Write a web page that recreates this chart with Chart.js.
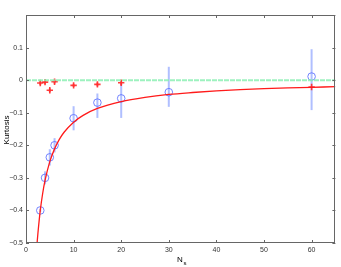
<!DOCTYPE html>
<html>
<head>
<meta charset="utf-8">
<script src="https://cdn.jsdelivr.net/npm/chart.js"></script>
<style>
  html, body { margin: 0; padding: 0; background: #fff; }
  #wrap { width: 341px; height: 267px; position: relative; }
</style>
</head>
<body>
<div id="wrap"><canvas id="myChart" width="341" height="267"></canvas></div>
<script>
// blue circles with error bars
let blueNs = [3, 4, 5, 6, 10, 15, 20, 30, 60];
let blueK = [-0.40, -0.30, -0.237, -0.20, -0.117, -0.069, -0.056, -0.037, 0.011];
let blueErrUp = [0.005, 0.02, 0.025, 0.022, 0.037, 0.028, 0.045, 0.078, 0.084];
let blueErrDown = [0.005, 0.02, 0.025, 0.022, 0.037, 0.047, 0.06, 0.045, 0.103];

// red plus markers
let redNs = [3, 4, 5, 6, 10, 15, 20, 60];
let redK = [-0.009, -0.006, -0.031, -0.005, -0.016, -0.013, -0.008, -0.021];
let redErr = [0.006, 0.006, 0.006, 0.006, 0.005, 0.006, 0.007, 0.002];

// red curve
let curveNs = [2.33, 2.5, 3, 3.5, 4, 5, 6, 7, 8, 10, 12, 15, 20, 25, 30, 35, 40, 45, 50, 55, 60, 65];
let curveK = [-0.5, -0.471, -0.4, -0.348, -0.308, -0.25, -0.211, -0.182, -0.16, -0.129, -0.108, -0.087,
  -0.066, -0.053, -0.044, -0.038, -0.033, -0.029, -0.026, -0.024, -0.022, -0.020];

// zero line
let zeroNs = [0, 65];
let zeroK = [0, 0];

let xTicks = [0, 10, 20, 30, 40, 50, 60];
let yTicks = [-0.5, -0.4, -0.3, -0.2, -0.1, 0, 0.1, 0.2];

let fontName = "'Liberation Sans', Arial, sans-serif";

function toPts(xs, ys) {
  let pts = [];
  for (let i = 0; i < xs.length; i++) pts.push({ x: xs[i], y: ys[i] });
  return pts;
}

let matlabBox = {
  id: 'matlabBox',
  beforeDatasetsDraw(chart) {
    let ctx = chart.ctx;
    let xs = chart.scales.x, ys = chart.scales.y;
    // error bars
    ctx.save();
    ctx.lineWidth = 2;
    ctx.strokeStyle = 'rgba(150,170,255,0.75)';
    for (let i = 0; i < blueNs.length; i++) {
      let px = xs.getPixelForValue(blueNs[i]);
      ctx.beginPath();
      ctx.moveTo(px, ys.getPixelForValue(blueK[i] + blueErrUp[i]));
      ctx.lineTo(px, ys.getPixelForValue(blueK[i] - blueErrDown[i]));
      ctx.stroke();
    }
    ctx.strokeStyle = 'rgba(255,90,90,0.8)';
    for (let i = 0; i < redNs.length; i++) {
      let px = xs.getPixelForValue(redNs[i]);
      ctx.beginPath();
      ctx.moveTo(px, ys.getPixelForValue(redK[i] + redErr[i]));
      ctx.lineTo(px, ys.getPixelForValue(redK[i] - redErr[i]));
      ctx.stroke();
    }
    ctx.restore();
  },
  afterDraw(chart) {
    let ctx = chart.ctx;
    let a = chart.chartArea;
    let xs = chart.scales.x, ys = chart.scales.y;
    ctx.save();
    ctx.strokeStyle = '#666';
    ctx.lineWidth = 1;
    ctx.strokeRect(Math.round(a.left) + 0.5, Math.round(a.top) + 0.5,
      Math.round(a.right - a.left) - 1, Math.round(a.bottom - a.top) - 1);
    ctx.beginPath();
    for (let t of xTicks) {
      let px = Math.round(xs.getPixelForValue(t)) + 0.5;
      ctx.moveTo(px, a.bottom); ctx.lineTo(px, a.bottom - 3);
      ctx.moveTo(px, a.top); ctx.lineTo(px, a.top + 3);
    }
    for (let t of yTicks) {
      let py = Math.round(ys.getPixelForValue(t)) + 0.5;
      ctx.moveTo(a.left, py); ctx.lineTo(a.left + 3, py);
      ctx.moveTo(a.right, py); ctx.lineTo(a.right - 3, py);
    }
    ctx.stroke();
    // axis titles
    ctx.fillStyle = '#000';
    ctx.font = '8px ' + fontName;
    ctx.textBaseline = 'alphabetic';
    ctx.textAlign = 'left';
    ctx.fillText('N', 177, 262);
    ctx.font = '6px ' + fontName;
    ctx.fillText('s', 183.5, 265);
    ctx.translate(9, 130);
    ctx.rotate(-Math.PI / 2);
    ctx.font = '8px ' + fontName;
    ctx.textAlign = 'center';
    ctx.fillText('Kurtosis', 0, 0);
    ctx.restore();
  }
};

new Chart('myChart', {
  type: 'scatter',
  data: {
    datasets: [
      {
        label: 'zero',
        type: 'line',
        data: toPts(zeroNs, zeroK),
        borderColor: 'rgba(140,240,180,0.85)',
        borderWidth: 2,
        borderDash: [5, 1],
        pointRadius: 0,
        fill: false
      },
      {
        label: 'curve',
        type: 'line',
        data: toPts(curveNs, curveK),
        borderColor: '#ff1a1a',
        borderWidth: 1.3,
        pointRadius: 0,
        cubicInterpolationMode: 'monotone',
        fill: false
      },
      {
        label: 'blue',
        data: toPts(blueNs, blueK),
        pointStyle: 'circle',
        pointRadius: 3.8,
        borderColor: 'rgba(90,110,255,0.85)',
        backgroundColor: 'rgba(0,0,0,0)',
        borderWidth: 1
      },
      {
        label: 'red',
        data: toPts(redNs, redK),
        pointStyle: 'cross',
        pointRadius: 3.2,
        borderColor: 'rgba(255,40,40,0.9)',
        borderWidth: 1.6
      }
    ]
  },
  options: {
    responsive: false,
    animation: false,
    layout: { padding: { left: 0, right: 2, top: 15, bottom: 0 } },
    plugins: {
      legend: { display: false },
      tooltip: { enabled: false }
    },
    scales: {
      x: {
        type: 'linear',
        min: 0,
        max: 65,
        afterBuildTicks(scale) { scale.ticks = xTicks.map(v => ({ value: v })); },
        afterFit(scale) { scale.height = 24; },
        grid: { display: false, drawTicks: false, tickLength: 0 },
        border: { display: false },
        ticks: {
          padding: 3,
          maxRotation: 0,
          color: '#333',
          font: { size: 7, family: fontName }
        }
      },
      y: {
        type: 'linear',
        min: -0.5,
        max: 0.2,
        afterBuildTicks(scale) { scale.ticks = yTicks.map(v => ({ value: v })); },
        afterFit(scale) { scale.width = 26; },
        grid: { display: false, drawTicks: false, tickLength: 0 },
        border: { display: false },
        ticks: {
          padding: 3,
          color: '#333',
          font: { size: 7, family: fontName },
          callback: function (v) {
            if (Math.abs(v - 0.2) < 1e-9) return '';
            if (Math.abs(v) < 1e-9) return '0';
            let s = (Math.round(v * 10) / 10).toFixed(1);
            return s.replace('-', '\u2212');
          }
        }
      }
    }
  },
  plugins: [matlabBox]
});
</script>
</body>
</html>
